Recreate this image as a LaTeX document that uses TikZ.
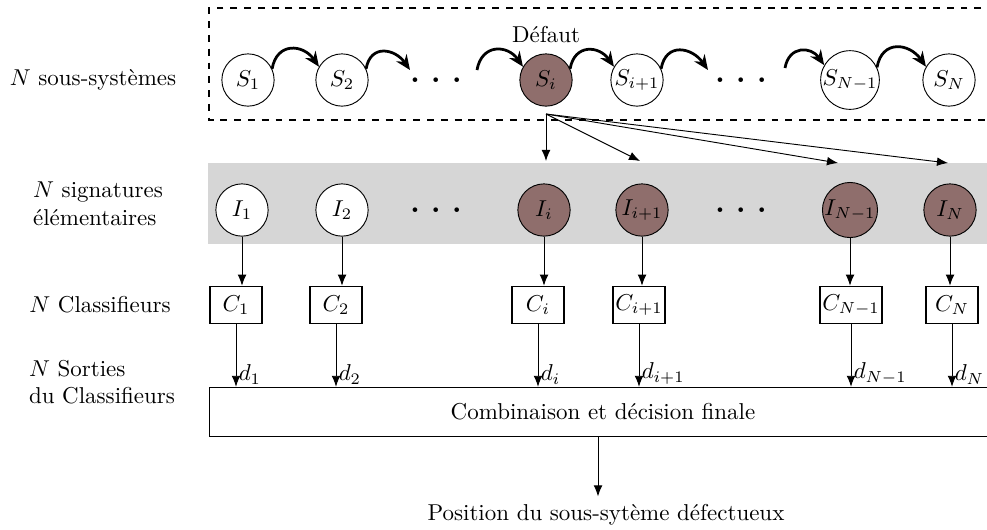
\documentclass[tikz,border=0pt]{standalone}
\usepackage{amsmath}
\usepackage{tikz}
\usetikzlibrary{shapes,arrows.meta,positioning}
\definecolor{defaut}{RGB}{143,110,108}
\definecolor{bande}{RGB}{214,214,214}

\begin{document}
\begin{tikzpicture}[x=0.0153cm, y=-0.0153cm,
    sys/.style={circle, draw, fill=white, minimum size=0.8cm, inner sep=0pt},
    sig/.style={circle, draw, fill=white, minimum size=0.8cm, inner sep=0pt},
    fault/.style={fill=defaut},
    clf/.style={rectangle, draw, semithick, minimum width=0.8cm, minimum height=0.57cm, inner sep=1pt},
    hop/.style={very thick, -{Stealth[length=6.5pt, width=5.5pt]}},
    arrow/.style={-{Latex[length=4.8pt, width=3.8pt]}},
    side/.style={align=left}]

    \clip (0,0) rectangle (987,529);

    % Cadres
    \draw[dashed, semithick] (995,8) -- (209,8) -- (209,120) -- (995,120);
    \fill[bande] (208,163) rectangle (995,244);

    % Sous-systemes
    \node[sys] (S1) at (248,80) {$S_1$};
    \node[sys] (S2) at (342,80) {$S_2$};
    \node (dotsS1) at (440,80) {\huge$\dots$};
    \node[sys, fault] (Si) at (546,80) {$S_i$};
    \node[sys] (Sip) at (637,80) {$S_{i+1}$};
    \node (dotsS2) at (745,80) {\huge$\dots$};
    \node[sys] (SNm) at (850,80) {$S_{N-1}$};
    \node[sys] (SN) at (949,80) {$S_N$};
    \node[above=1pt of Si] (defaut) {Défaut};

    \coordinate (hopA) at (410,70);
    \coordinate (hopB) at (477,70);
    \coordinate (hopC) at (708,70);
    \coordinate (hopD) at (785,68);

    \draw[hop] (S1.25) to[out=80, in=125, looseness=1.5] (S2.150);
    \draw[hop] (S2.25) to[out=80, in=125, looseness=1.5] (hopA);
    \draw[hop] (hopB) to[out=80, in=125, looseness=1.5] (Si.150);
    \draw[hop] (Si.25) to[out=80, in=125, looseness=1.5] (Sip.150);
    \draw[hop] (Sip.25) to[out=80, in=125, looseness=1.5] (hopC);
    \draw[hop] (hopD) to[out=80, in=125, looseness=1.5] (SNm.150);
    \draw[hop] (SNm.25) to[out=80, in=125, looseness=1.5] (SN.150);

    % Signatures
    \node[sig] (I1) at (242,210) {$I_1$};
    \node[sig] (I2) at (342,210) {$I_2$};
    \node (dotsI1) at (440,210) {\huge$\dots$};
    \node[sig, fault] (Ii) at (544,210) {$I_i$};
    \node[sig, fault] (Iip) at (642,210) {$I_{i+1}$};
    \node (dotsI2) at (745,210) {\huge$\dots$};
    \node[sig, fault] (INm) at (850,210) {$I_{N-1}$};
    \node[sig, fault] (IN) at (950,210) {$I_N$};

    \coordinate (fan) at (546,114);
    \coordinate (tIi) at (546,161);
    \coordinate (tIip) at (640,161);
    \coordinate (tINm) at (838,163);
    \coordinate (tIN) at (948,163);
    \draw[arrow] (fan) -- (tIi);
    \draw[arrow] (fan) -- (tIip);
    \draw[arrow] (fan) -- (tINm);
    \draw[arrow] (fan) -- (tIN);

    % Classifieurs
    \node[clf] (C1) at (236,305) {$C_1$};
    \node[clf] (C2) at (336,305) {$C_2$};
    \node[clf] (Ci) at (538,305) {$C_i$};
    \node[clf] (Cip) at (639,305) {$C_{i+1}$};
    \node[clf] (CNm) at (851,305) {$C_{N-1}$};
    \node[clf] (CN) at (952,305) {$C_N$};

    \foreach \s/\c in {I1/C1, I2/C2, Ii/Ci, Iip/Cip, INm/CNm, IN/CN}
        \draw[arrow] (\s) -- (\s |- \c.north);

    % Combinaison
    \node[draw, semithick, minimum width=12.05cm, minimum height=0.75cm] (comb) at (603,412) {};
    \node at (603,412) {Combinaison et décision finale};

    \foreach \c/\d in {C1/d_1, C2/d_2, Ci/d_i, Cip/d_{i+1}, CNm/d_{N-1}, CN/d_N}
        \draw[arrow] (\c) -- (\c |- comb.north)
            node[anchor=south west, inner sep=1pt, pos=1] {$\d$};

    \node (pos) at (606,515) {Position du sous-sytème défectueux};
    \draw[arrow] (comb.south -| pos.north) ++(-8,0) coordinate (out) -- (out |- pos.north);

    % Legendes
    \node[side] (lS) at (93,80) {$N$ sous-systèmes};
    \node[side] (lI) at (98,204) {$N$ signatures\\élémentaires};
    \node[side] (lC) at (100,305) {$N$ Classifieurs};
    \node[side] (lD) at (102,382) {$N$ Sorties\\du Classifieurs};

\end{tikzpicture}
\end{document}
